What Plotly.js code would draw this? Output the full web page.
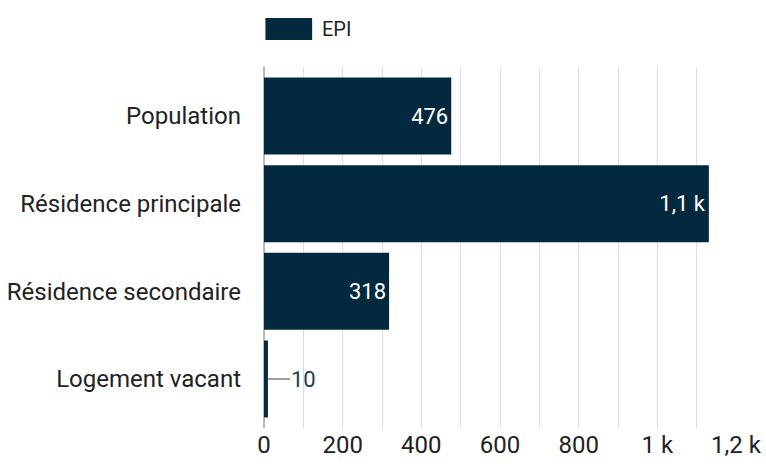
<!DOCTYPE html>
<html><head><meta charset="utf-8">
<script src="https://cdn.plot.ly/plotly-3.0.1.min.js"></script>
<style>html,body{margin:0;padding:0;background:#fff}</style>
</head><body>
<div id="chart" style="width:766px;height:464px"></div>
<script>
const categories = ["Population", "Résidence principale", "Résidence secondaire", "Logement vacant"];
const values = [476, 1131, 318, 10];
const valueLabels = ["476", "1,1 k", "318", ""];
const seriesName = "EPI";
const tickVals = [0, 200, 400, 600, 800, 1000, 1200];
const tickText = ["0", "200", "400", "600", "800", "1 k", "1,2 k"];
const outsideIdx = 3;
const outsideLabel = "10";

const navy = "#03293f";
const trace = {
  type: "bar", orientation: "h",
  y: categories, x: values, name: seriesName,
  marker: {color: navy},
  text: valueLabels, textposition: "inside", insidetextanchor: "end",
  textfont: {color: "#ffffff", size: 22, family: "Roboto"},
  cliponaxis: false, showlegend: false, hoverinfo: "skip"
};
const layout = {
  width: 766, height: 464,
  margin: {l: 264, r: 30, t: 67, b: 36},
  paper_bgcolor: "#fff", plot_bgcolor: "#fff",
  separators: ", ",
  font: {family: "Roboto", size: 24, color: "#222"},
  bargap: 0.122,
  xaxis: {
    range: [0, 1200], tickmode: "array", tickvals: tickVals, ticktext: tickText,
    showgrid: true, gridcolor: "#dddddd", gridwidth: 1,
    minor: {tickmode: "linear", tick0: 0, dtick: 100, showgrid: true, gridcolor: "#dddddd", gridwidth: 1},
    zeroline: true, zerolinecolor: "#b8b8b8", zerolinewidth: 2,
    showline: false, ticks: "", tickfont: {size: 24, color: "#222"}, fixedrange: true
  },
  yaxis: {
    type: "category", range: [3.559, -0.559],
    showgrid: false, zeroline: false, showline: false, ticks: "",
    ticklabelstandoff: 22, tickfont: {size: 24, color: "#222"}
  },
  shapes: [{type: "rect", xref: "paper", yref: "paper", x0: 0.003, x1: 0.102, y0: 1.075, y1: 1.136,
            fillcolor: navy, line: {width: 0}}],
  annotations: [
    {xref: "paper", yref: "paper", x: 0.118, y: 1.105, xanchor: "left", yanchor: "middle",
     text: seriesName, showarrow: false, font: {size: 20, color: "#222"}},
    {x: values[outsideIdx], y: categories[outsideIdx], xref: "x", yref: "y",
     text: outsideLabel, showarrow: true, arrowhead: 0, arrowwidth: 2, arrowcolor: "#a0a0a0",
     ax: 36, ay: 0, font: {size: 22, color: "#1d3f55"}, standoff: 0}
  ]
};
Plotly.newPlot("chart", [trace], layout, {displayModeBar: false, staticPlot: true});
</script>
</body></html>
